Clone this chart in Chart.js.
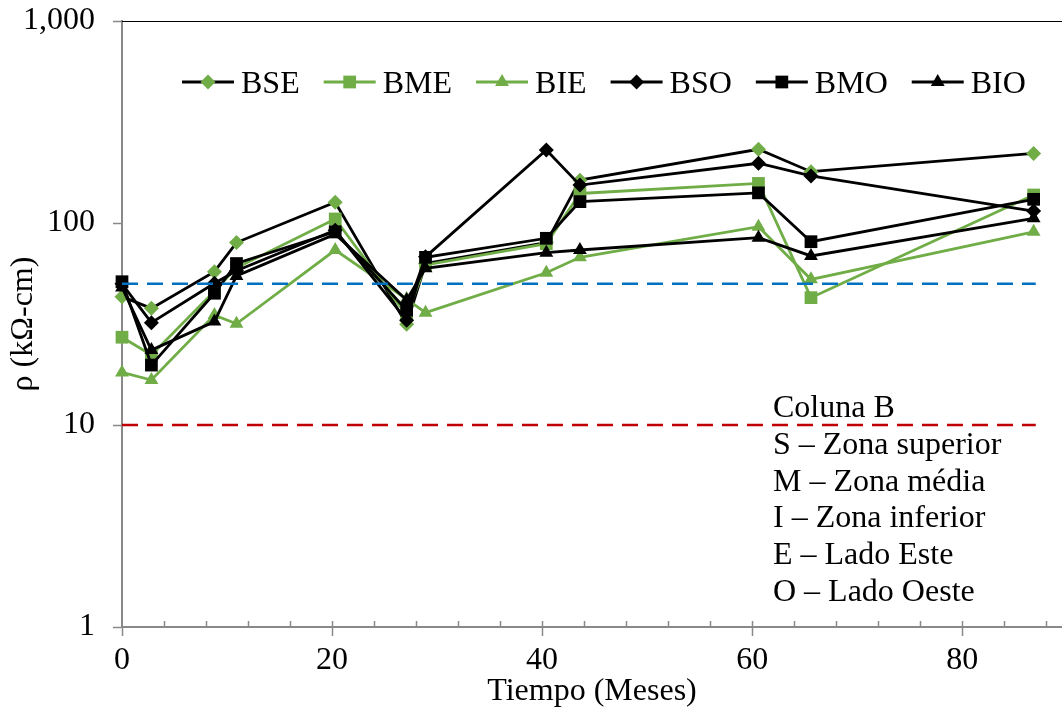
<!DOCTYPE html>
<html>
<head>
<meta charset="utf-8">
<script src="https://cdn.jsdelivr.net/npm/chart.js@4"></script>
<style>
  html, body { margin: 0; padding: 0; background: #fff; }
  #wrap { width: 1062px; height: 713px; }
</style>
</head>
<body>
<div id="wrap"><canvas id="rhoChart" width="1062" height="713"></canvas></div>
<script>
// months of each reading
const months = [0, 2.8, 8.8, 10.9, 20.3, 27.1, 28.9, 40.4, 43.6, 60.6, 65.6, 86.8];

// resistivity, kOhm-cm
const bse = [43.2, 37.8, 57.4, 80, 126.6, 31.5, 63, 80, 163, 231.6, 179.5, 221];
const bme = [27.2, 22.2, 46, 60, 104.7, 35, 62, 79, 140, 157, 42.7, 137.6];
const bie = [18.2, 16.7, 35, 31.7, 73.5, 42, 36, 56.7, 67.6, 95.9, 52.6, 90.5];
const bso = [50, 32.1, 50.3, 58, 92, 33, 68, 229.7, 154, 197.6, 171, 114.6];
const bmo = [51.2, 19.8, 44.9, 63, 90.5, 37, 67.6, 84, 127.6, 141, 80.8, 131];
const bio = [48, 23.5, 32.5, 54.7, 88, 41.6, 59.7, 71.3, 73.5, 84.6, 68.7, 105.5];

// threshold lines
const limitMonths = [0, 87];
const limitHigh = [50, 50];
const limitLow = [10, 10];

const yTicks = [1, 10, 100, 1000];
const notes = ['Coluna B', 'S – Zona superior', 'M – Zona média', 'I – Zona inferior', 'E – Lado Este', 'O – Lado Oeste'];

const GREEN = '#70AD47';
const AXIS = '#898989';
const FONT = { family: "'Times New Roman', 'Liberation Serif', serif", size: 32, lineHeight: 1.2 };

function pts(ys) {
  return months.map((m, i) => ({ x: m, y: ys[i] }));
}

function series(label, ys, lineColor, markColor, style, r, order) {
  return {
    label,
    data: pts(ys),
    borderColor: lineColor,
    borderWidth: 2.8,
    pointStyle: style,
    pointRadius: r,
    pointBackgroundColor: markColor,
    pointBorderWidth: 0,
    tension: 0,
    clip: false,
    order
  };
}

const datasets = [
  series('BSE', bse, '#000', GREEN, 'rectRot', 7.5, 6),
  series('BME', bme, GREEN, GREEN, 'rect', 9, 5),
  series('BIE', bie, GREEN, GREEN, 'triangle', 8, 4),
  series('BSO', bso, '#000', '#000', 'rectRot', 7.5, 3),
  series('BMO', bmo, '#000', '#000', 'rect', 9, 2),
  series('BIO', bio, '#000', '#000', 'triangle', 8, 1),
  {
    label: 'high', data: limitMonths.map((m, i) => ({ x: m, y: limitHigh[i] })),
    borderColor: '#0070C0', borderWidth: 2.5, borderDash: [16, 9], pointRadius: 0, order: 0, legend: false
  },
  {
    label: 'low', data: limitMonths.map((m, i) => ({ x: m, y: limitLow[i] })),
    borderColor: '#C00000', borderWidth: 2.5, borderDash: [16, 9], pointRadius: 0, order: 0, legend: false
  }
];

// same geometry as Chart.js point styles
function marker(ctx, style, r, x, y) {
  ctx.beginPath();
  if (style === 'rect') {
    const s = Math.SQRT1_2 * r;
    ctx.rect(x - s, y - s, 2 * s, 2 * s);
  } else if (style === 'rectRot') {
    ctx.moveTo(x, y - r); ctx.lineTo(x + r, y); ctx.lineTo(x, y + r); ctx.lineTo(x - r, y);
    ctx.closePath();
  } else {
    ctx.moveTo(x, y - r);
    ctx.lineTo(x + Math.sin(2 * Math.PI / 3) * r, y - Math.cos(2 * Math.PI / 3) * r);
    ctx.lineTo(x + Math.sin(4 * Math.PI / 3) * r, y - Math.cos(4 * Math.PI / 3) * r);
    ctx.closePath();
  }
  ctx.fill();
}

const decor = {
  id: 'decor',
  afterDraw(chart) {
    const { ctx, chartArea: a, scales: { x } } = chart;
    ctx.save();

    // top edge
    ctx.strokeStyle = '#000';
    ctx.lineWidth = 1;
    ctx.beginPath();
    ctx.moveTo(a.left, a.top + 0.5);
    ctx.lineTo(a.right, a.top + 0.5);
    ctx.stroke();

    // minor x ticks, inside
    ctx.strokeStyle = AXIS;
    ctx.lineWidth = 1.5;
    for (let v = 4; v <= x.max; v += 4) {
      const px = Math.round(x.getPixelForValue(v)) + 0.5;
      ctx.beginPath();
      ctx.moveTo(px, a.bottom);
      ctx.lineTo(px, a.bottom - 6);
      ctx.stroke();
    }

    // legend inside plot
    ctx.font = `${FONT.size}px ${FONT.family}`;
    ctx.textBaseline = 'alphabetic';
    ctx.textAlign = 'left';
    let lx = a.left + 60;
    const ly = 82;
    chart.data.datasets.filter(d => d.legend !== false).forEach(d => {
      ctx.strokeStyle = d.borderColor;
      ctx.lineWidth = 2.8;
      ctx.beginPath();
      ctx.moveTo(lx, ly);
      ctx.lineTo(lx + 52, ly);
      ctx.stroke();
      ctx.fillStyle = d.pointBackgroundColor;
      marker(ctx, d.pointStyle, d.pointRadius, lx + 26, ly);
      ctx.fillStyle = '#000';
      const tx = lx + 59;
      ctx.fillText(d.label, tx, ly + 11);
      lx = tx + ctx.measureText(d.label).width + 24;
    });

    // notes
    ctx.fillStyle = '#000';
    notes.forEach((t, i) => ctx.fillText(t, 773, 417 + i * 36.8));

    ctx.restore();
  }
};

new Chart(document.getElementById('rhoChart').getContext('2d'), {
  type: 'line',
  data: { datasets },
  plugins: [decor],
  options: {
    responsive: false,
    animation: false,
    layout: { autoPadding: false, padding: { top: 21, left: 0, right: 0, bottom: 0 } },
    plugins: {
      legend: { display: false },
      tooltip: { enabled: false }
    },
    scales: {
      x: {
        type: 'linear',
        min: 0,
        max: 89.5,
        ticks: { stepSize: 20, includeBounds: false, font: FONT, color: '#000', padding: 5 },
        grid: { drawOnChartArea: false, tickLength: 9, tickColor: AXIS, tickWidth: 1.5 },
        border: { color: AXIS, width: 2 },
        title: { display: true, text: 'Tiempo (Meses)', font: FONT, color: '#000', padding: { top: 0, bottom: 2 } },
        afterFit: s => { s.height = 86; s.paddingLeft = 0; s.paddingRight = 0; }
      },
      y: {
        type: 'logarithmic',
        min: 1,
        max: 1000,
        afterBuildTicks: s => { s.ticks = yTicks.map(v => ({ value: v })); },
        ticks: { callback: v => Number(v).toLocaleString('en-US'), font: FONT, color: '#000', padding: 18 },
        grid: { drawOnChartArea: false, tickLength: 9, tickColor: AXIS, tickWidth: 1.5 },
        border: { color: AXIS, width: 2 },
        title: { display: true, text: 'ρ (kΩ-cm)', font: FONT, color: '#000', padding: { top: 4, bottom: 0 } },
        afterFit: s => { s.width = 122; s.paddingTop = 0; s.paddingBottom = 0; }
      }
    }
  }
});
</script>
</body>
</html>
